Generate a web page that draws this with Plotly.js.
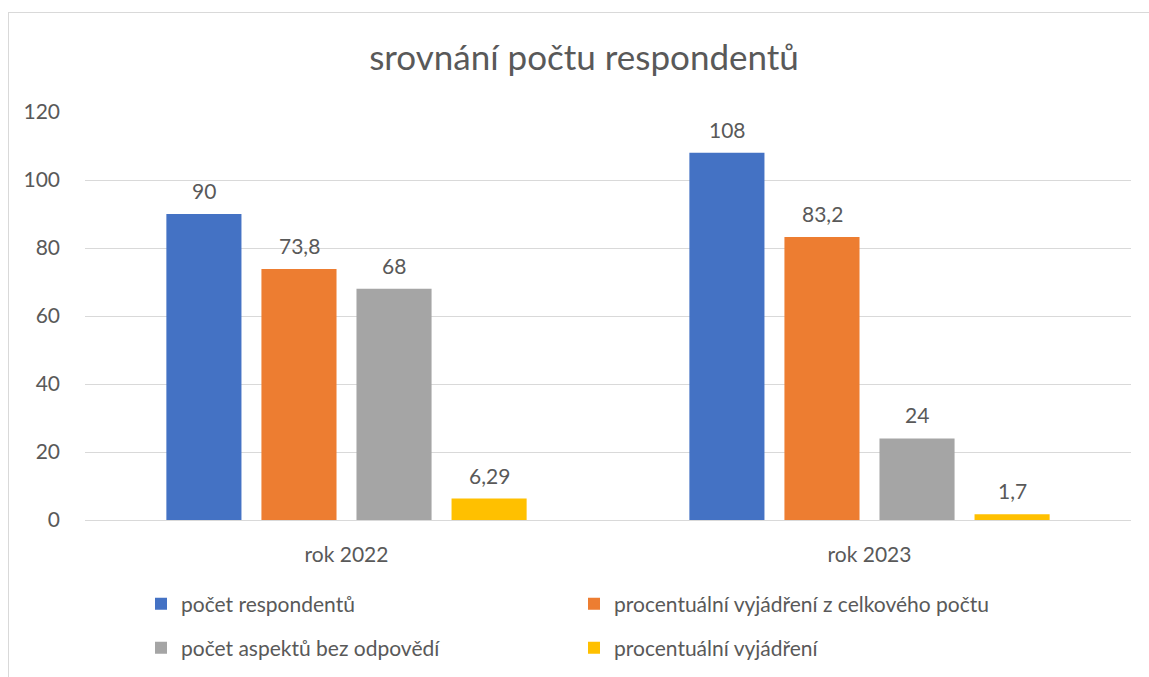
<!DOCTYPE html>
<html><head><meta charset="utf-8">
<script src="https://cdn.plot.ly/plotly-3.0.1.min.js"></script>
<style>html,body{margin:0;padding:0;background:#fff;overflow:hidden}
#frame{position:absolute;left:8px;top:12px;width:1200px;height:700px;border:1px solid #d9d9d9;pointer-events:none;box-sizing:border-box}
#chart{position:absolute;left:0;top:0;width:1149px;height:677px}</style>
</head><body>
<div id="chart"></div><div id="frame"></div>
<script>
const categories = ["rok 2022", "rok 2023"];
const seriesNames = ["počet respondentů", "procentuální vyjádření z celkového počtu", "počet aspektů bez odpovědí", "procentuální vyjádření"];
const pocetRespondentu = [90, 108];
const procentaCelkem = [73.8, 83.2];
const pocetAspektu = [68, 24];
const procenta = [6.29, 1.7];
const colors = ["#4472c4", "#ed7d31", "#a5a5a5", "#ffc000"];
const yTicks = [0, 20, 40, 60, 80, 100, 120];

const series = [pocetRespondentu, procentaCelkem, pocetAspektu, procenta];
const legendOf = ['legend', 'legend', 'legend2', 'legend2'];
const fmt = v => String(v).replace('.', ',');
const font = "Lato, 'Open Sans', sans-serif";
const txt = "#595959";

const traces = series.map((vals, i) => ({
  type: 'bar', x: categories, y: vals, name: seriesNames[i], legend: legendOf[i],
  marker: {color: colors[i]}, hoverinfo: 'none'
}));

const slot = 95;
const annotations = [];
series.forEach((vals, i) => vals.forEach((v, j) => annotations.push({
  x: categories[j], y: v, xref: 'x', yref: 'y', text: fmt(v), showarrow: false,
  xshift: (i - 1.5) * slot, yanchor: 'bottom', yshift: 9,
  font: {family: font, size: 21, color: txt}
})));

const legendBase = {orientation: 'h', x: (141-85)/1046, xanchor: 'left', yanchor: 'middle',
  entrywidth: 388, entrywidthmode: 'pixels', itemwidth: 30, bgcolor: 'rgba(0,0,0,0)',
  font: {family: font, size: 21, color: txt}};

const layout = {
  width: 1149, height: 677,
  margin: {l: 85, r: 18, t: 112, b: 157, autoexpand: false},
  paper_bgcolor: '#fff', plot_bgcolor: '#fff',
  title: {text: 'srovnání počtu respondentů', x: 584/1149, xref: 'container', xanchor: 'center',
          y: 1 - 58/677, yref: 'container', yanchor: 'middle',
          font: {family: font, size: 35, color: txt}},
  barmode: 'group', bargap: 0.273, bargroupgap: 0.21,
  xaxis: {type: 'category', showgrid: false, zeroline: false, showline: false, ticks: '',
          ticklabelstandoff: 20, tickfont: {family: font, size: 21, color: txt}},
  yaxis: {range: [0, 120], tickvals: yTicks, ticktext: yTicks.map(String),
          showgrid: true, gridcolor: '#d9d9d9', gridwidth: 1, zeroline: true, zerolinecolor: '#d9d9d9',
          zerolinewidth: 1, showline: false, ticks: '', ticklabelstandoff: 24,
          tickfont: {family: font, size: 21, color: txt}},
  legend: Object.assign({}, legendBase, {y: -(604-520)/408}),
  legend2: Object.assign({}, legendBase, {y: -(648-520)/408}),
  annotations: annotations,
  showlegend: true
};
Plotly.newPlot('chart', traces, layout, {displayModeBar: false, staticPlot: true});
</script>
</body></html>
